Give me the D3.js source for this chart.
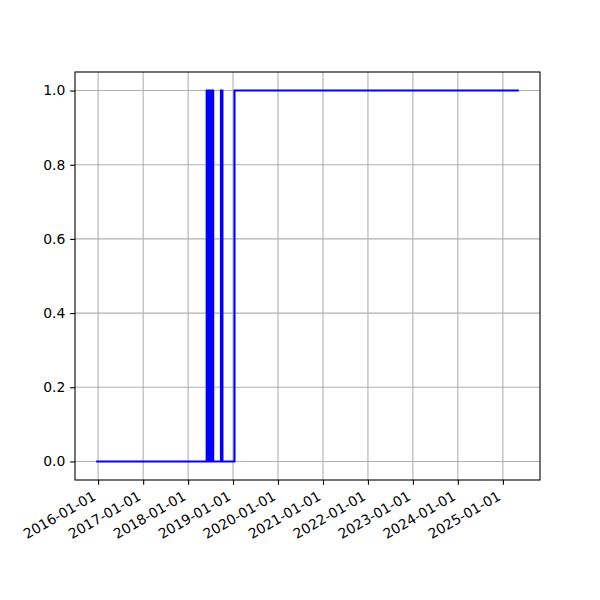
<!DOCTYPE html>
<html>
<head>
<meta charset="utf-8">
<script src="https://cdn.jsdelivr.net/npm/d3@7"></script>
<style>
  html, body { margin: 0; padding: 0; background: #fff; }
  svg { display: block; }
  text { font-family: "DejaVu Sans", sans-serif; font-size: 13.9px; fill: #000; }
</style>
</head>
<body>
<svg id="chart" width="600" height="600"></svg>
<script>
// ---- Data (state changes, step-after) ----
const changeDates = [
  "2015-12-16",
  "2018-06-01", "2018-06-04", "2018-06-07", "2018-06-10", "2018-06-13",
  "2018-06-16", "2018-06-19", "2018-06-22", "2018-06-26", "2018-06-29",
  "2018-07-02", "2018-07-05", "2018-07-08", "2018-07-11", "2018-07-14",
  "2018-07-17", "2018-07-20", "2018-07-24",
  "2018-09-25", "2018-10-07",
  "2019-01-13",
  "2025-05-11"
];
const changeValues = [
  0,
  1, 0, 1, 0, 1,
  0, 1, 0, 1, 0,
  1, 0, 1, 0, 1,
  0, 1, 0,
  1, 0,
  1,
  1
];
const yTickValues = [0.0, 0.2, 0.4, 0.6, 0.8, 1.0];
const xTickYears = [2016, 2017, 2018, 2019, 2020, 2021, 2022, 2023, 2024, 2025];

const data = changeDates.map((d, i) => ({ date: new Date(d + "T00:00:00Z"), value: changeValues[i] }));

const M = { left: 75, right: 540, top: 72, bottom: 480 };
const svg = d3.select("#chart");

const [xmin, xmax] = d3.extent(data, d => d.date);
const pad = (xmax - xmin) * 0.05;
const x = d3.scaleUtc()
  .domain([new Date(+xmin - pad), new Date(+xmax + pad)])
  .range([M.left, M.right]);
const y = d3.scaleLinear()
  .domain([-0.05, 1.05])
  .range([M.bottom, M.top]);

const xTicks = xTickYears.map(yr => new Date(Date.UTC(yr, 0, 1)));
const fmt = d3.utcFormat("%Y-%m-%d");

// grid
const grid = svg.append("g");
grid.selectAll(".gx").data(xTicks).join("line")
  .attr("x1", d => x(d)).attr("x2", d => x(d))
  .attr("y1", M.top).attr("y2", M.bottom)
  .attr("stroke", "#b0b0b0").attr("stroke-width", 1.1);
grid.selectAll(".gy").data(yTickValues).join("line")
  .attr("x1", M.left).attr("x2", M.right)
  .attr("y1", d => y(d)).attr("y2", d => y(d))
  .attr("stroke", "#b0b0b0").attr("stroke-width", 1.1);

// line
const line = d3.line()
  .x(d => x(d.date))
  .y(d => y(d.value))
  .curve(d3.curveStepAfter);
svg.append("path")
  .datum(data)
  .attr("d", line)
  .attr("fill", "none")
  .attr("stroke", "#0000ff")
  .attr("stroke-width", 2.08)
  .attr("stroke-linejoin", "miter")
  .attr("stroke-linecap", "butt");

// spines
svg.append("rect")
  .attr("x", M.left).attr("y", M.top)
  .attr("width", M.right - M.left).attr("height", M.bottom - M.top)
  .attr("fill", "none").attr("stroke", "#000").attr("stroke-width", 1.1);

// x axis ticks
const xAxisG = svg.append("g").attr("transform", `translate(0,${M.bottom})`);
const xAxis = d3.axisBottom(x).tickValues(xTicks).tickFormat(fmt).tickSize(4.86).tickPadding(4.86);
xAxisG.call(xAxis);
xAxisG.select(".domain").remove();
xAxisG.selectAll(".tick line").attr("stroke", "#000").attr("stroke-width", 1.1);
xAxisG.selectAll(".tick text")
  .attr("font-family", "DejaVu Sans, sans-serif")
  .attr("font-size", 13.9)
  .attr("fill", "#000")
  .attr("text-anchor", "end")
  .attr("dy", null)
  .attr("y", null)
  .attr("transform", "translate(-1.7,19) rotate(-30)");

// y axis ticks
const yAxisG = svg.append("g").attr("transform", `translate(${M.left},0)`);
const yAxis = d3.axisLeft(y).tickValues(yTickValues).tickFormat(d3.format(".1f")).tickSize(4.86).tickPadding(4.86);
yAxisG.call(yAxis);
yAxisG.select(".domain").remove();
yAxisG.selectAll(".tick line").attr("stroke", "#000").attr("stroke-width", 1.1);
yAxisG.selectAll(".tick text")
  .attr("font-family", "DejaVu Sans, sans-serif")
  .attr("font-size", 13.9)
  .attr("fill", "#000");
</script>
</body>
</html>
